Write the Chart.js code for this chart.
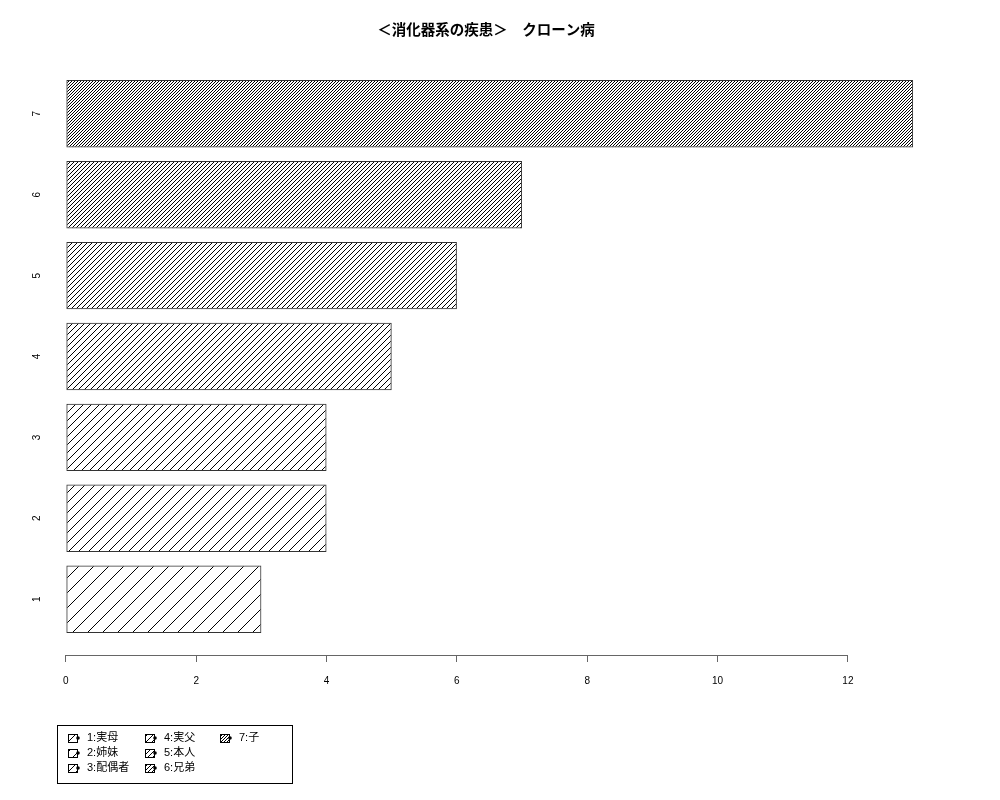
<!DOCTYPE html>
<html>
<head>
<meta charset="utf-8">
<script src="https://cdn.jsdelivr.net/npm/chart.js@4"></script>
<style>
  html, body { margin: 0; padding: 0; background: #fff; }
  #chart { display: block; }
</style>
</head>
<body>
<canvas id="chart" width="1000" height="800"></canvas>
<script>
// data
const titleText = "＜消化器系の疾患＞　クローン病";
const categories = ["1", "2", "3", "4", "5", "6", "7"];
const counts = [3, 4, 4, 5, 6, 7, 13];
const legendLabels = ["1:実母", "2:姉妹", "3:配偶者", "4:実父", "5:本人", "6:兄弟", "7:子"];
const xTicks = [0, 2, 4, 6, 8, 10, 12];

// hatch spacing per bar (px), sparse to dense
const hatchSpacing = [15, 10, 8, 6, 5, 4, 3];

const FONT = "'Liberation Sans', 'Noto Sans CJK JP', sans-serif";

// build a "/" line pattern like R's density shading
function makeHatch(s) {
    const c = document.createElement("canvas");
    c.width = s; c.height = s;
    const g = c.getContext("2d");
    g.strokeStyle = "#000";
    g.lineWidth = 1;
    g.beginPath();
    g.moveTo(0, s); g.lineTo(s, 0);
    g.moveTo(-1, 1); g.lineTo(1, -1);
    g.moveTo(s - 1, s + 1); g.lineTo(s + 1, s - 1);
    g.stroke();
    return g.createPattern(c, "repeat");
}
const patterns = hatchSpacing.map(makeHatch);

// R barplot: width 1, space 0.2 -> centres at 0.7, 1.9, ...
const barPos = categories.map((c, i) => 0.7 + i * 1.2);
const barData = counts.map((v, i) => ({ x: v, y: barPos[i] }));

// title centred over R's plot region, axis line only from first to last tick
const decorPlugin = {
    id: "rDecor",
    afterDraw(chart) {
        const xs = chart.scales.x;
        const ctx = chart.ctx;
        ctx.save();
        ctx.fillStyle = "#000";
        ctx.font = "bold 14.5px 'Noto Sans CJK JP', sans-serif";
        ctx.textAlign = "center";
        ctx.textBaseline = "middle";
        ctx.fillText(titleText, 486, 29);

        const y = Math.round(chart.chartArea.bottom) + 0.5;
        ctx.strokeStyle = "#666";
        ctx.lineWidth = 1;
        ctx.beginPath();
        ctx.moveTo(xs.getPixelForValue(xTicks[0]), y);
        ctx.lineTo(xs.getPixelForValue(xTicks[xTicks.length - 1]), y);
        ctx.stroke();
        ctx.restore();
    }
};

// legend box, filled column by column like R's legend(ncol=3)
const legendPlugin = {
    id: "rLegend",
    afterDraw(chart) {
        const ctx = chart.ctx;
        const boxL = 57, boxT = 725, boxW = 235, boxH = 58;
        const colX = [68, 145, 220];
        const rowY = [738, 753, 768];
        ctx.save();
        ctx.strokeStyle = "#000";
        ctx.lineWidth = 1;
        ctx.strokeRect(boxL + 0.5, boxT + 0.5, boxW, boxH);
        ctx.font = "11px " + FONT;
        ctx.textBaseline = "middle";
        ctx.fillStyle = "#000";
        legendLabels.forEach((lab, i) => {
            const cx = colX[Math.floor(i / 3)];
            const cy = rowY[i % 3];
            ctx.fillStyle = "#fff";
            ctx.fillRect(cx, cy - 4, 9, 8);
            ctx.fillStyle = patterns[i];
            ctx.fillRect(cx, cy - 4, 9, 8);
            ctx.strokeStyle = "#000";
            ctx.strokeRect(cx + 0.5, cy - 4 + 0.5, 9, 8);
            ctx.fillStyle = "#000";
            ctx.beginPath();
            ctx.arc(cx + 10, cy, 1.8, 0, Math.PI * 2);
            ctx.fill();
            ctx.fillText(lab, cx + 19, cy);
        });
        ctx.restore();
    }
};

new Chart(document.getElementById("chart"), {
    type: "bar",
    data: {
        datasets: [{
            data: barData,
            backgroundColor: patterns,
            borderColor: "#333",
            borderWidth: 1,
            borderSkipped: false,
            barPercentage: 1,
            categoryPercentage: 1 / 1.2
        }]
    },
    options: {
        indexAxis: "y",
        responsive: false,
        animation: false,
        devicePixelRatio: 1,
        layout: { padding: { top: 58, right: 53, bottom: 0, left: 0 } },
        plugins: {
            legend: { display: false },
            tooltip: { enabled: false },
            title: { display: false }
        },
        scales: {
            x: {
                type: "linear",
                min: -0.32,
                max: 13.52,
                afterBuildTicks: (scale) => { scale.ticks = xTicks.map(v => ({ value: v })); },
                afterFit: (scale) => { scale.height = 145; },
                border: { display: false },
                grid: { drawOnChartArea: false, drawTicks: true, tickLength: 7, color: "#666" },
                ticks: { color: "#000", font: { family: FONT, size: 10 }, padding: 13, maxRotation: 0 }
            },
            y: {
                type: "linear",
                offset: false,
                min: -0.128,
                max: 8.728,
                afterBuildTicks: (scale) => { scale.ticks = barPos.map(v => ({ value: v })); },
                afterFit: (scale) => { scale.width = 45; },
                border: { display: false },
                grid: { display: false, drawTicks: false, offset: false },
                ticks: {
                    color: "#000",
                    font: { family: FONT, size: 10 },
                    minRotation: 90,
                    maxRotation: 90,
                    crossAlign: "center",
                    padding: 5,
                    callback: (v, i) => categories[i]
                }
            }
        }
    },
    plugins: [decorPlugin, legendPlugin]
});
</script>
</body>
</html>
